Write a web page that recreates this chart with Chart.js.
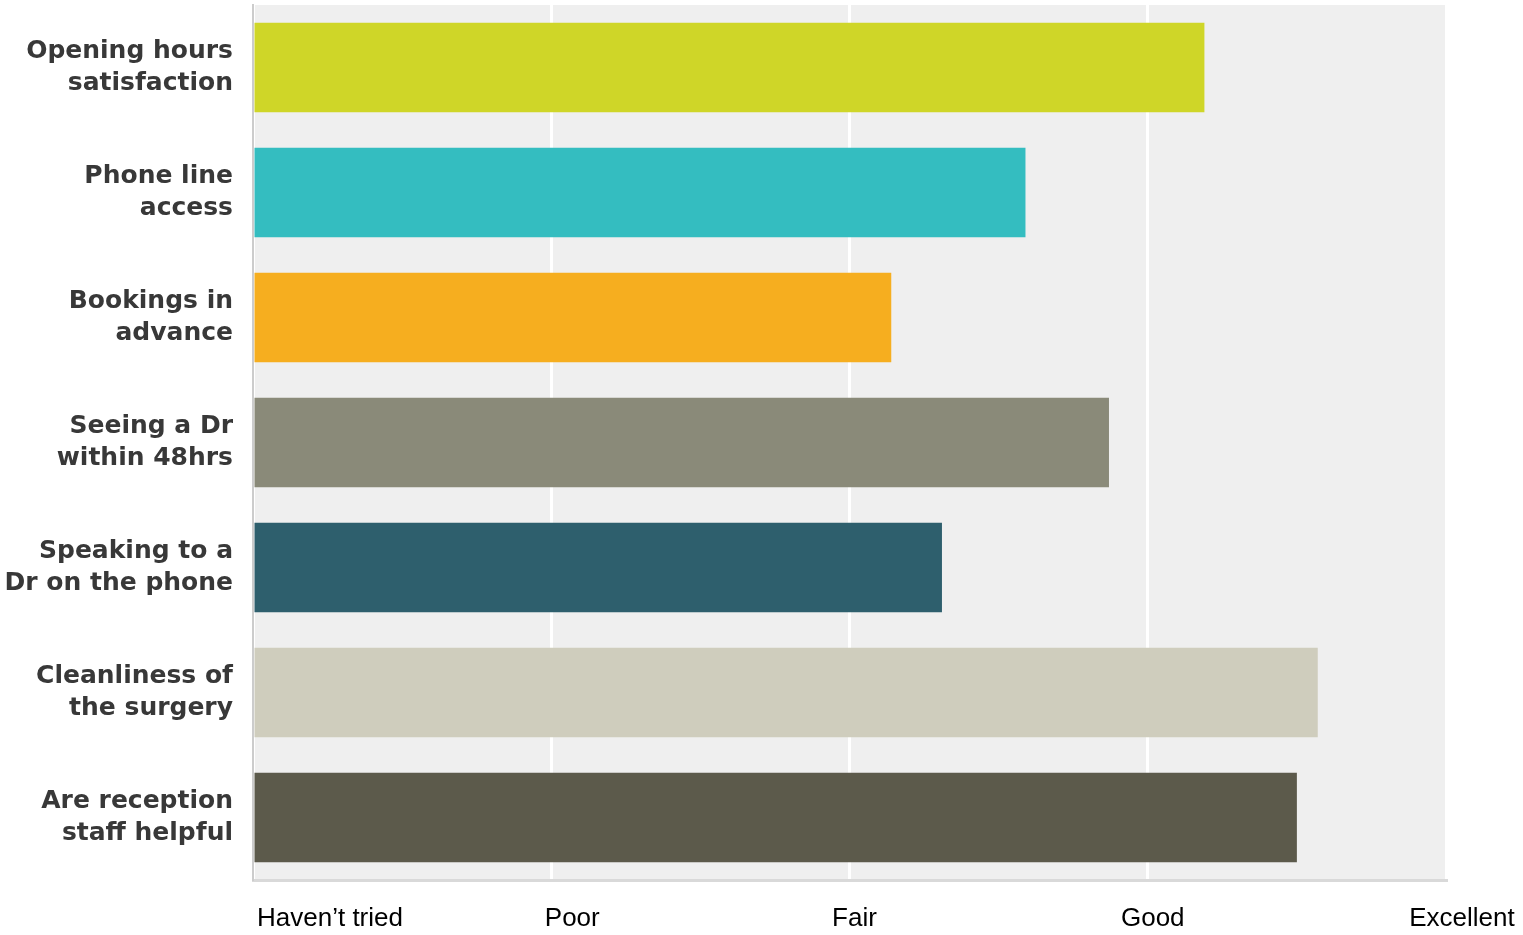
<!DOCTYPE html>
<html>
<head>
<meta charset="utf-8">
<script src="https://cdn.jsdelivr.net/npm/chart.js@4/dist/chart.umd.min.js"></script>
<style>
	html, body { margin: 0; padding: 0; background: #ffffff; }
	#wrap { width: 1523px; height: 935px; }
</style>
</head>
<body>
<div id="wrap"><canvas id="grafico"></canvas></div>
<script>
// Perguntas do questionário (eixo Y)
const categorias = [
	['Opening hours', 'satisfaction'],
	['Phone line', 'access'],
	['Bookings in', 'advance'],
	['Seeing a Dr', 'within 48hrs'],
	['Speaking to a', 'Dr on the phone'],
	['Cleanliness of', 'the surgery'],
	['Are reception', 'staff helpful']
];

// Nota média (0 = Haven't tried ... 4 = Excellent)
const notas = [3.19, 2.59, 2.14, 2.87, 2.31, 3.57, 3.50];

// Rótulos da escala
const escala = ['Haven\u2019t tried', 'Poor', 'Fair', 'Good', 'Excellent'];

const cores = ['#cfd628', '#34bdc0', '#f6ae1f', '#8a8a79', '#2e5f6d', '#cfcdbd', '#5c5a4b'];

// fundo cinza da área do gráfico
const fundoArea = {
	id: 'fundoArea',
	beforeDraw(chart) {
		const a = chart.chartArea;
		const c = chart.ctx;
		c.save();
		c.fillStyle = '#efefef';
		c.fillRect(a.left, a.top, a.right - a.left, a.bottom - a.top);
		c.restore();
	}
};

// rótulos da escala embaixo (alinhamento irregular como no original)
const rotulosEscala = {
	id: 'rotulosEscala',
	afterDraw(chart) {
		const x = chart.scales.x;
		const c = chart.ctx;
		const desloc = [4, 21, 5, 5, 16];
		c.save();
		c.font = '26px "Liberation Sans", Arial, sans-serif';
		c.fillStyle = '#000000';
		c.textBaseline = 'middle';
		escala.forEach(function (txt, i) {
			c.textAlign = i === 0 ? 'left' : 'center';
			c.fillText(txt, x.getPixelForValue(i) + desloc[i], 919);
		});
		c.restore();
	}
};

const ctx = document.getElementById('grafico');
new Chart(ctx, {
	type: 'bar',
	data: {
		labels: categorias,
		datasets: [{
			data: notas,
			backgroundColor: cores,
			borderWidth: 0,
			barPercentage: 0.715,
			categoryPercentage: 1
		}]
	},
	options: {
		indexAxis: 'y',
		responsive: true,
		maintainAspectRatio: false,
		animation: false,
		layout: { padding: { top: 5, right: 77, bottom: 55, left: 0 } },
		plugins: {
			legend: { display: false },
			tooltip: { enabled: false }
		},
		scales: {
			x: {
				min: 0,
				max: 4,
				ticks: { display: false, stepSize: 1 },
				grid: { color: '#ffffff', lineWidth: 3, drawTicks: false },
				border: { color: '#d9d9d9', width: 3 }
			},
			y: {
				afterFit(scale) {
					scale.width = 253;
					scale.paddingTop = 0;
					scale.paddingBottom = 0;
				},
				ticks: {
					color: '#383838',
					padding: 20,
					font: { size: 25, weight: 'bold', family: '"DejaVu Sans", Verdana, sans-serif', lineHeight: 1.3 }
				},
				grid: { display: false, drawTicks: false },
				border: { color: '#cccccc', width: 2 }
			}
		}
	},
	plugins: [fundoArea, rotulosEscala]
});
</script>
</body>
</html>
